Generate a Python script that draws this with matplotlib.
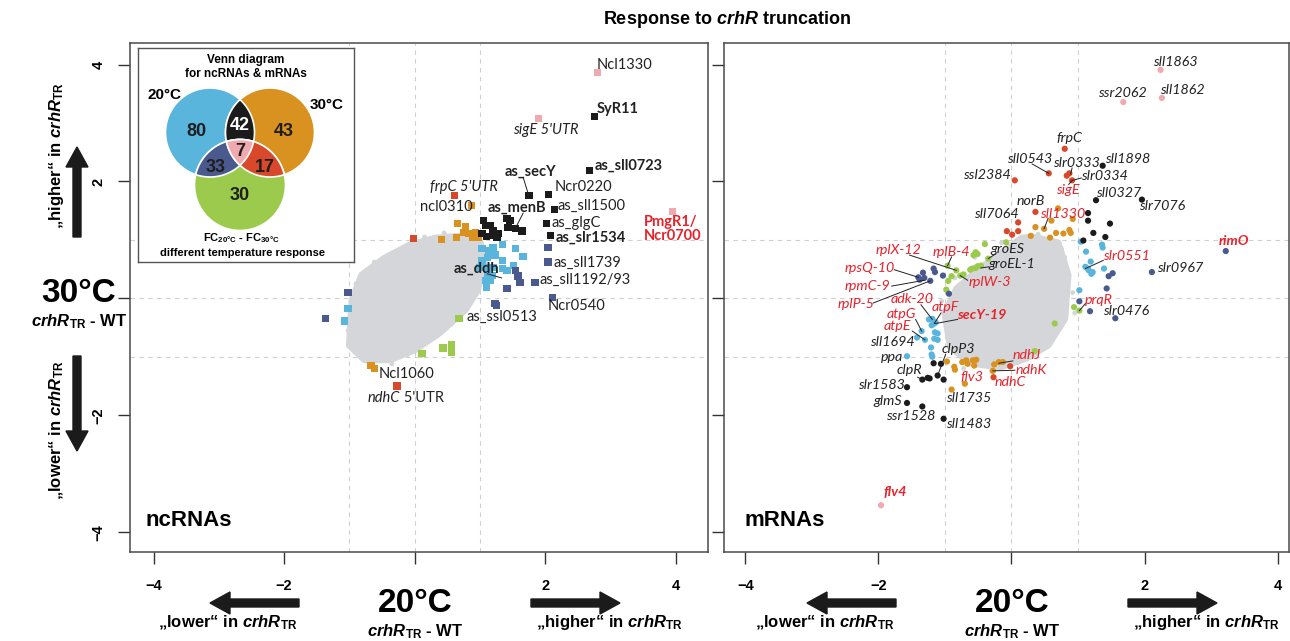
import matplotlib
matplotlib.use("Agg")
import matplotlib.pyplot as plt
import numpy as np
from matplotlib.patches import Circle, Polygon, FancyArrow

plt.rcParams["font.family"] = ["Liberation Sans", "DejaVu Sans"]
plt.rcParams["mathtext.fontset"] = "custom"
plt.rcParams["mathtext.rm"] = "Liberation Sans"
plt.rcParams["mathtext.it"] = "Liberation Sans:italic"
plt.rcParams["mathtext.bf"] = "Liberation Sans:bold"
plt.rcParams["mathtext.bfit"] = "Liberation Sans:italic:bold"

# ---------------- ncRNA panel data ----------------
nc_cloud_x = [-1.00, -0.96, -0.81, -0.46, -0.08, 0.31, 0.77, 1.00, 1.07, 0.96, 0.77, 0.38, 0.00, -0.38, -0.77]
nc_cloud_y = [-0.80, -0.03, 0.40, 0.69, 0.91, 1.03, 1.07, 0.96, 0.65, 0.14, -0.20, -0.59, -0.88, -1.05, -1.05]
nc_dots_x = [-0.23, -0.08, -0.80, -0.95, -1.00, -0.81, -0.54, -0.12, 0.23, 0.35, 0.74, 0.89, 0.96, -0.62,
             -1.05, -0.70, -0.35, 0.10, 0.55, 0.45, -0.90, -1.02, 0.15, -0.20]
nc_dots_y = [0.79, 0.74, 0.14, -0.42, -0.71, -0.88, -0.94, -0.97, -0.71, -0.29, -0.15, 0.19, 0.54, 0.62,
             -0.20, -1.10, -1.12, -0.98, -0.45, 1.12, 0.25, -0.55, 1.05, 0.85]

nc_pink_x = [2.80, 1.89, 3.95]
nc_pink_y = [3.86, 3.08, 1.49]
nc_black_x = [2.75, 2.68, 1.75, 2.05, 2.14, 2.02, 2.08, 1.41, 1.46, 1.43, 1.54, 1.64,
              1.05, 1.08, 1.16, 1.20, 1.28, 1.03, 1.10, 1.19, 1.26]
nc_black_y = [3.11, 2.19, 1.76, 1.78, 1.52, 1.28, 1.08, 1.37, 1.33, 1.21, 1.20, 1.15,
              1.33, 1.25, 1.25, 1.16, 1.11, 1.11, 1.06, 1.08, 1.04]
nc_orange_x = [0.87, 0.65, 0.78, 0.75, 0.82, 0.93, 0.64, 0.41, 0.88, 0.97, -0.67, -0.62]
nc_orange_y = [1.59, 1.28, 1.23, 1.13, 1.11, 1.13, 1.04, 1.01, 1.04, 1.04, -1.15, -1.20]
nc_red_x = [0.61, -0.02, -0.27]
nc_red_y = [1.76, 1.03, -1.50]
nc_blue_x = [1.03, 1.13, 1.20, 1.34, 1.54, 1.66, 1.03, 1.11, 1.23, 1.34, 1.00, 1.11, 1.20,
             1.34, 1.41, 1.51, 1.11, 1.19, 1.08, 1.16, 1.10, -1.02, -1.08]
nc_blue_y = [0.85, 0.82, 0.87, 0.92, 0.85, 0.72, 0.65, 0.70, 0.74, 0.65, 0.53, 0.53, 0.53,
             0.51, 0.48, 0.56, 0.43, 0.39, 0.31, 0.31, 0.19, -0.17, -0.39]
nc_slate_x = [-1.02, -1.37, 2.04, 2.04, 1.84, 2.11, 1.54, 1.58, 1.61, 1.41, 1.23, 1.25]
nc_slate_y = [0.10, -0.34, 0.62, 0.87, 0.27, 0.02, 0.48, 0.38, 0.27, 0.17, -0.09, -0.12]
nc_green_x = [0.68, 0.56, 0.56, 0.43, 0.11]
nc_green_y = [-0.34, -0.80, -0.92, -0.85, -0.94]

nc_labels = [
    ("Ncl1330", 2.78, 4.00), ("SyR11", 2.79, 3.24), ("sigE 5'UTR", 1.51, 2.88),
    ("as_sll0723", 2.75, 2.27), ("as_secY", 1.37, 2.16), ("frpC 5'UTR", 0.24, 1.90),
    ("Ncr0220", 2.14, 1.90), ("ncl0310", 0.08, 1.56), ("as_menB", 1.11, 1.56),
    ("as_sll1500", 2.19, 1.59), ("as_glgC", 2.10, 1.29), ("as_slr1534", 2.15, 1.04),
    ("PmgR1/\nNcr0700", 3.51, 1.19), ("as_sll1739", 2.12, 0.60), ("as_ddh", 0.60, 0.51),
    ("as_sll1192/93", 1.91, 0.32), ("Ncr0540", 2.03, -0.13), ("as_ssl0513", 0.79, -0.31),
    ("Ncl1060", -0.55, -1.30),
]
nc_bold = {"SyR11", "as_sll0723", "as_secY", "as_menB", "as_slr1534", "PmgR1/\nNcr0700", "as_ddh"}
nc_italic = {"sigE 5'UTR", "frpC 5'UTR"}
nc_red_labels = {"PmgR1/\nNcr0700"}
nc_lines = [((1.66, 2.07), (1.74, 1.78)), ((1.66, 1.46), (1.55, 1.22)), ((1.11, 0.42), (1.33, 0.35))]

# ---------------- mRNA panel data ----------------
mr_cloud_x = [0.32, 0.70, 0.85, 0.80, 0.55, 0.23, -0.18, -0.63, -0.92, -1.00, -0.82, -0.46, -0.10, 0.15]
mr_cloud_y = [1.05, 0.95, 0.40, -0.35, -0.80, -1.02, -1.18, -1.10, -0.82, -0.25, 0.17, 0.52, 0.82, 1.03]
mr_dots_x = [0.80, 0.92, 0.60, -0.98, -0.72, -0.30, 0.10, 0.45, -0.55, 0.75, 0.40, -1.05, 0.95, -0.85,
             0.30, -0.15]
mr_dots_y = [0.70, 0.10, -0.70, -0.45, -1.20, -1.25, -1.10, -0.85, 0.70, 0.85, 1.10, -0.05, -0.25, 0.35,
             -1.00, 0.95]

mr_pink_x = [2.24, 1.68, 2.26, -1.96]
mr_pink_y = [3.91, 3.36, 3.43, -3.54]
mr_red_x = [0.80, 0.56, 0.83, 0.87, 0.91, 0.05, 0.36, 0.10, -0.07, 0.01, 0.10, -0.02, -0.27]
mr_red_y = [2.56, 2.14, 2.10, 2.14, 2.02, 2.02, 1.48, 1.30, 1.15, 1.09, 1.15, -1.16, -1.35]
mr_orange_x = [0.70, 0.49, 0.60, 0.36, 0.29, 0.58, 0.67, 0.78, 0.87, 0.89, 0.92, -0.97, -0.74,
               -0.68, -0.58, -0.53, -0.66, -0.56, -0.86, -0.85, -0.70, -0.90, -0.26, -0.19, -0.13, -0.28]
mr_orange_y = [1.54, 1.19, 1.33, 1.22, 1.07, 1.04, 1.12, 1.11, 1.17, 1.12, 1.36, -1.08, -1.09,
               -1.06, -1.06, -1.05, -1.12, -1.15, -1.17, -1.22, -1.46, -1.56, -1.13, -1.09, -1.09, -1.24]
mr_black_x = [1.37, 1.27, 1.96, 1.15, 1.15, 1.48, 1.23, 1.41, 1.08, -1.17, -1.06, -1.34, -1.26,
              -1.23, -1.11, -1.02, -1.57, -1.57, -1.34, -1.02]
mr_black_y = [2.27, 1.68, 1.69, 1.46, 1.33, 1.28, 1.12, 1.05, 0.99, -1.11, -1.12, -1.39, -1.36,
              -1.37, -1.32, -1.39, -1.52, -1.79, -1.85, -2.06]
mr_blue_x = [1.04, 1.12, 1.36, 1.37, 1.19, 1.11, 1.16, 1.20, 1.15, 1.22, 1.39, 1.02, -1.24, -1.19,
             -1.16, -1.20, -1.14, -1.35, -1.30, -1.42, -1.15, -1.11, -1.16, -1.11, -1.21, -1.20, -1.19, -1.57]
mr_blue_y = [0.97, 0.80, 0.92, 0.87, 0.63, 0.54, 0.48, 0.42, 0.51, 0.45, 0.51, 0.14, -0.36, -0.35,
             -0.43, -0.46, -0.41, -0.56, -0.71, -0.67, -0.58, -0.60, -0.69, -0.71, -0.84, -0.96, -1.00, -0.99]
mr_slate_x = [3.22, 2.11, 1.46, 1.52, 1.43, 1.02, 1.18, 1.56, -1.33, -1.40, -1.38, -1.31, -1.22,
              -1.17, -1.15, -1.03, -0.94]
mr_slate_y = [0.81, 0.45, 0.38, 0.43, 0.17, -0.05, -0.22, -0.34, 0.44, 0.36, 0.32, 0.35, 0.30,
              0.51, 0.45, 0.39, 0.08]
mr_green_x = [-0.08, -0.40, -0.54, -0.51, -0.57, -0.59, -0.51, -0.46, -0.54, -0.62, -0.35, -0.96,
              -0.83, -0.90, -0.77, -0.72, -0.95, -0.98, 0.94, 1.02, 0.65, 0.35]
mr_green_y = [0.96, 0.93, 0.79, 0.76, 0.74, 0.51, 0.55, 0.56, 0.52, 0.49, 0.68, 0.56,
              0.48, 0.38, 0.39, 0.41, 0.30, 0.15, -0.15, -0.21, -0.43, -0.90]

mr_labels = [
    ("sll1863", 2.12, 4.04), ("ssr2062", 1.30, 3.52), ("sll1862", 2.23, 3.57),
    ("frpC", 0.67, 2.75), ("sll0543", -0.07, 2.39), ("slr0333", 0.63, 2.31),
    ("sll1898", 1.41, 2.39), ("slr0334", 1.04, 2.09), ("ssl2384", -0.73, 2.11),
    ("sigE", 0.67, 1.86), ("sll0327", 1.27, 1.81), ("slr7076", 1.92, 1.58),
    ("norB", 0.08, 1.66), ("sll1330", 0.43, 1.44), ("sll7064", -0.57, 1.45),
    ("rimO", 3.12, 0.99), ("groES", -0.32, 0.85), ("groEL-1", -0.34, 0.58),
    ("rplX-12", -2.04, 0.82), ("rplB-4", -1.18, 0.79), ("rpsQ-10", -2.51, 0.52),
    ("rplW-3", -0.65, 0.28), ("rpmC-9", -2.51, 0.22), ("slr0551", 1.37, 0.72),
    ("slr0967", 2.18, 0.52), ("rplP-5", -2.62, -0.09), ("prqR", 1.11, -0.02),
    ("slr0476", 1.37, -0.21), ("adk-20", -1.81, -0.01), ("atpF", -1.20, -0.15),
    ("secY-19", -0.81, -0.29), ("atpG", -1.87, -0.27), ("atpE", -1.92, -0.47),
    ("sll1694", -2.12, -0.75), ("ppa", -1.96, -1.00), ("clpP3", -1.05, -0.86),
    ("clpR", -1.72, -1.22), ("slr1583", -2.31, -1.49), ("glmS", -2.08, -1.76),
    ("ssr1528", -1.89, -2.02), ("sll1483", -0.99, -2.15), ("sll1735", -0.99, -1.71),
    ("flv3", -0.77, -1.35), ("ndhJ", 0.02, -0.97), ("ndhK", 0.06, -1.22),
    ("ndhC", -0.26, -1.43), ("flv4", -1.92, -3.32),
]
mr_red_labels = {"sigE", "sll1330", "rimO", "rplX-12", "rplB-4", "rpsQ-10", "rplW-3", "rpmC-9",
                 "slr0551", "rplP-5", "prqR", "adk-20", "atpF", "secY-19", "atpG", "atpE",
                 "flv3", "ndhJ", "ndhK", "ndhC", "flv4"}
mr_bold = {"rimO", "secY-19", "flv4"}
mr_lines = [
    ((0.31, 2.30), (0.56, 2.14)), ((0.91, 2.23), (0.89, 2.13)), ((1.05, 2.06), (0.92, 2.02)),
    ((0.86, 1.95), (0.91, 2.02)), ((0.55, 1.37), (0.49, 1.19)), ((-0.24, 0.76), (-0.35, 0.68)),
    ((-0.34, 0.54), (-0.46, 0.52)), ((-1.53, 0.74), (-0.83, 0.48)), ((-0.90, 0.71), (-0.96, 0.56)),
    ((-1.76, 0.49), (-1.40, 0.36)), ((-0.66, 0.31), (-0.77, 0.39)), ((-1.80, 0.21), (-1.31, 0.31)),
    ((-2.08, -0.08), (-1.22, 0.30)), ((1.38, 0.65), (1.11, 0.51)), ((1.11, -0.09), (1.02, -0.21)),
    ((-1.36, -0.11), (-1.19, -0.36)), ((-1.06, -0.25), (-1.16, -0.43)), ((-0.81, -0.36), (-1.14, -0.43)),
    ((-1.44, -0.36), (-1.35, -0.56)), ((-1.49, -0.56), (-1.30, -0.71)), ((-0.99, -0.96), (-1.11, -1.32)),
    ((-1.41, -1.35), (-1.34, -1.39)), ((0.02, -1.07), (-0.19, -1.11)), ((0.05, -1.23), (-0.28, -1.24)),
]

# Venn counts: 20C only, 20&30, 30C only, all three, 20&diff, 30&diff, diff only
venn_counts = [80, 42, 43, 7, 33, 17, 30]

C_BLUE = "#5ab5dd"
C_ORANGE = "#d9911f"
C_BLACK = "#1b1b1b"
C_PINK = "#f0a9ae"
C_SLATE = "#4a5a8e"
C_RED = "#d8482a"
C_GREEN = "#9cca4c"
C_GREY = "#d5d6d9"
C_LABEL_RED = "#e8222b"
LABEL_FONT = ["Lato", "DejaVu Sans"]

W, H = 1290, 641
fig = plt.figure(figsize=(W / 100, H / 100), dpi=100)

ax_nc = fig.add_axes([130 / W, 1 - 552 / H, (708 - 130) / W, (552 - 43) / H])
ax_mr = fig.add_axes([724 / W, 1 - 552 / H, (1289 - 724) / W, (552 - 43) / H])


def style_panel(ax, xlim, show_ylabels):
    ax.set_xlim(*xlim)
    ax.set_ylim(-4.34, 4.37)
    ticks = [-4, -2, 0, 2, 4]
    labels = ["\u22124", "\u22122", "", "2", "4"]
    ax.set_xticks(ticks)
    ax.set_xticklabels(labels, fontweight="bold", fontsize=10.5)
    ax.set_yticks(ticks)
    if show_ylabels:
        ax.set_yticklabels(labels, fontweight="bold", fontsize=10.5, rotation=90, va="center")
    else:
        ax.set_yticklabels([])
    ax.tick_params(direction="out", length=8.5, width=1.0, color="#333333")
    ax.tick_params(axis="x", pad=11)
    ax.tick_params(axis="y", pad=9)
    for sp in ax.spines.values():
        sp.set_color("#4a4a4a")
        sp.set_linewidth(1.1)
    for v in (-1, 0, 1):
        ax.axvline(v, color="#cfcfcf", ls=(0, (4, 4)), lw=0.8, zorder=0)
        ax.axhline(v, color="#cfcfcf", ls=(0, (4, 4)), lw=0.8, zorder=0)


def draw_cloud(ax, cx, cy, dx, dy):
    ax.add_patch(Polygon(np.column_stack([cx, cy]), closed=True, fc=C_GREY, ec=C_GREY,
                         lw=5, joinstyle="round", zorder=1))
    ax.scatter(dx, dy, s=12, c=C_GREY, edgecolors="none", zorder=1)


style_panel(ax_nc, (-4.36, 4.49), True)
style_panel(ax_mr, (-4.32, 4.17), False)

# ncRNA panel
draw_cloud(ax_nc, nc_cloud_x, nc_cloud_y, nc_dots_x, nc_dots_y)
for xs, ys, col in [(nc_green_x, nc_green_y, C_GREEN), (nc_blue_x, nc_blue_y, C_BLUE),
                    (nc_slate_x, nc_slate_y, C_SLATE), (nc_orange_x, nc_orange_y, C_ORANGE),
                    (nc_red_x, nc_red_y, C_RED), (nc_black_x, nc_black_y, C_BLACK),
                    (nc_pink_x, nc_pink_y, C_PINK)]:
    ax_nc.scatter(xs, ys, marker="s", s=28, c=col, edgecolors="none", zorder=3)

for (x0, y0), (x1, y1) in nc_lines:
    ax_nc.plot([x0, x1], [y0, y1], color="#222222", lw=0.7, zorder=4)

for txt, x, y in nc_labels:
    ax_nc.text(x, y, txt, ha="left", va="center", fontsize=10.5, family=LABEL_FONT,
               fontweight="bold" if txt in nc_bold else "normal",
               style="italic" if txt in nc_italic else "normal",
               color=C_LABEL_RED if txt in nc_red_labels else "#222222",
               linespacing=1.0, zorder=5)
t_ndhc = ax_nc.text(-0.72, -1.70, "ndhC", ha="left", va="center", fontsize=10.5,
                    family=LABEL_FONT, style="italic", color="#222222", zorder=5)
ax_nc.annotate(" 5'UTR", xy=(1, 0), xycoords=t_ndhc, ha="left", va="bottom",
               fontsize=10.5, family=LABEL_FONT, color="#222222")
ax_nc.text(-4.13, -3.80, "ncRNAs", ha="left", va="center", fontsize=16, fontweight="bold")

# mRNA panel
draw_cloud(ax_mr, mr_cloud_x, mr_cloud_y, mr_dots_x, mr_dots_y)
for xs, ys, col in [(mr_green_x, mr_green_y, C_GREEN), (mr_blue_x, mr_blue_y, C_BLUE),
                    (mr_slate_x, mr_slate_y, C_SLATE), (mr_orange_x, mr_orange_y, C_ORANGE),
                    (mr_red_x, mr_red_y, C_RED), (mr_black_x, mr_black_y, C_BLACK),
                    (mr_pink_x, mr_pink_y, C_PINK)]:
    ax_mr.scatter(xs, ys, marker="o", s=20, c=col, edgecolors="none", zorder=3)

for (x0, y0), (x1, y1) in mr_lines:
    ax_mr.plot([x0, x1], [y0, y1], color="#222222", lw=0.7, zorder=4)

for txt, x, y in mr_labels:
    ax_mr.text(x, y, txt, ha="left", va="center", fontsize=10.3, family=LABEL_FONT,
               style="italic", fontweight="bold" if txt in mr_bold else "normal",
               color=C_LABEL_RED if txt in mr_red_labels else "#222222", zorder=5)
ax_mr.text(-4.01, -3.80, "mRNAs", ha="left", va="center", fontsize=16, fontweight="bold")

# Venn inset (pixel coordinates)
ax_v = fig.add_axes([138 / W, 1 - 262 / H, (354 - 138) / W, (262 - 48) / H])
ax_v.set_xlim(138, 354)
ax_v.set_ylim(262, 48)
ax_v.set_xticks([])
ax_v.set_yticks([])
for sp in ax_v.spines.values():
    sp.set_color("#555555")
    sp.set_linewidth(1.0)

c20 = (210, 132.5, 44.5)
c30 = (270, 132.5, 44.5)
cfc = (240, 185, 45.5)


def overlap(circles, n=720):
    pts = []
    for cx, cy, r in circles:
        t = np.linspace(0, 2 * np.pi, n, endpoint=False)
        p = np.column_stack([cx + r * np.cos(t), cy + r * np.sin(t)])
        keep = np.ones(len(p), bool)
        for ox, oy, orr in circles:
            keep &= (p[:, 0] - ox) ** 2 + (p[:, 1] - oy) ** 2 <= orr ** 2 + 1e-6
        pts.append(p[keep])
    pts = np.vstack(pts)
    c = pts.mean(axis=0)
    order = np.argsort(np.arctan2(pts[:, 1] - c[1], pts[:, 0] - c[0]))
    return pts[order]


for (cx, cy, r), col in [(c20, C_BLUE), (c30, C_ORANGE), (cfc, C_GREEN)]:
    ax_v.add_patch(Circle((cx, cy), r, fc=col, ec="white", lw=1.2))
for circ, col in [((c20, c30), C_BLACK), ((c20, cfc), C_SLATE), ((c30, cfc), C_RED),
                  ((c20, c30, cfc), C_PINK)]:
    ax_v.add_patch(Polygon(overlap(circ), closed=True, fc=col, ec="white", lw=1.2))

venn_pos = [(196, 131), (240, 125), (284, 131), (240, 151), (216, 167), (265, 167), (240, 196)]
for (vx, vy), n in zip(venn_pos, venn_counts):
    ax_v.text(vx, vy, str(n), ha="center", va="center", fontsize=13, fontweight="bold",
              color="white" if n == 42 else "#1e1e1e")
ax_v.text(246, 67, "Venn diagram\nfor ncRNAs & mRNAs", ha="center", va="center",
          fontsize=8.5, fontweight="bold", linespacing=1.25)
ax_v.text(165, 95, "20°C", ha="center", va="center", fontsize=11, fontweight="bold")
ax_v.text(327, 105, "30°C", ha="center", va="center", fontsize=11, fontweight="bold")
ax_v.text(241, 238, r"FC$_{\mathbf{20°C}}$ - FC$_{\mathbf{30°C}}$", ha="center", va="center",
          fontsize=8, fontweight="bold")
ax_v.text(243, 252.5, "different temperature response", ha="center", va="center",
          fontsize=8, fontweight="bold")

# figure-level annotations in pixel coordinates
ov = fig.add_axes([0, 0, 1, 1], zorder=-1)
ov.set_xlim(0, W)
ov.set_ylim(H, 0)
ov.axis("off")

crhr = r"$\mathbfit{crhR}_{\mathbf{TR}}$"
ov.text(727, 20, r"Response to $\mathbfit{crhR}$ truncation", ha="center", va="center",
        fontsize=13, fontweight="bold")

ov.text(79, 293, "30°C", ha="center", va="center", fontsize=24, fontweight="bold")
ov.text(79, 322, crhr + " - WT", ha="center", va="center", fontsize=12, fontweight="bold")
ov.text(57, 156, "\u201ehigher\u201c in " + crhr, ha="center", va="center", rotation=90,
        fontsize=12, fontweight="bold")
ov.text(57, 430, "\u201elower\u201c in " + crhr, ha="center", va="center", rotation=90,
        fontsize=12, fontweight="bold")
arrow_kw = dict(width=8, head_width=22, head_length=20, length_includes_head=True,
                fc=C_BLACK, ec=C_BLACK)
ov.add_patch(FancyArrow(77, 237, 0, -90, **arrow_kw))
ov.add_patch(FancyArrow(77, 356, 0, 95, **arrow_kw))

for cx in (415, 1012):
    ov.text(cx, 603, "20°C", ha="center", va="center", fontsize=24, fontweight="bold")
    ov.text(cx, 632, crhr + " - WT", ha="center", va="center", fontsize=12, fontweight="bold")
    ov.add_patch(FancyArrow(cx - 116, 603, -89, 0, **arrow_kw))
    ov.add_patch(FancyArrow(cx + 116, 603, 89, 0, **arrow_kw))
    ov.text(cx - 187, 623, "\u201elower\u201c in " + crhr, ha="center", va="center",
            fontsize=12, fontweight="bold")
    ov.text(cx + 194, 623, "\u201ehigher\u201c in " + crhr, ha="center", va="center",
            fontsize=12, fontweight="bold")

fig.savefig("out.png", dpi=100)
